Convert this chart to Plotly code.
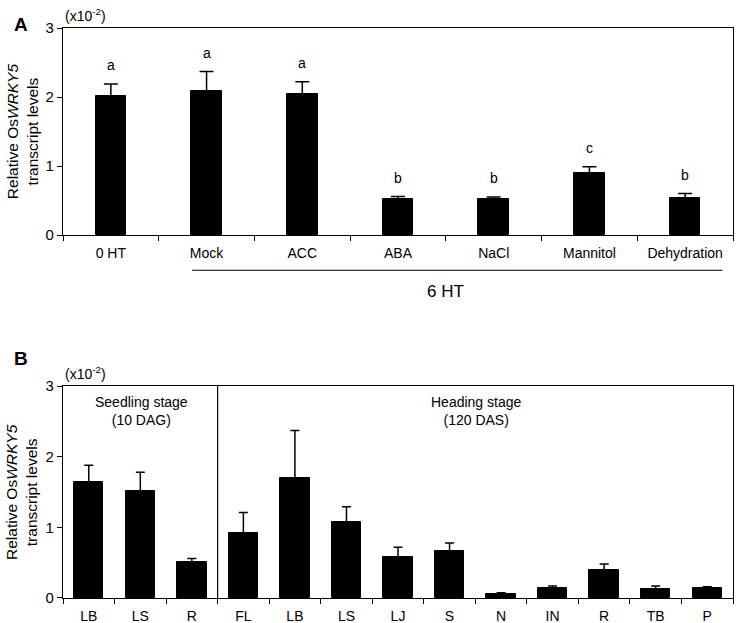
import numpy as np
import plotly.graph_objects as go

# ---------- Data ----------
cats_a = ["0 HT", "Mock", "ACC", "ABA", "NaCl", "Mannitol", "Dehydration"]
mean_a = [2.02, 2.09, 2.04, 0.52, 0.52, 0.90, 0.53]
err_a = [0.17, 0.28, 0.18, 0.04, 0.03, 0.09, 0.07]
letters_a = ["a", "a", "a", "b", "b", "c", "b"]

cats_b = ["LB", "LS", "R", "FL", "LB", "LS", "LJ", "S", "N", "IN", "R", "TB", "P"]
mean_b = [1.64, 1.51, 0.51, 0.92, 1.70, 1.07, 0.58, 0.67, 0.05, 0.14, 0.40, 0.13, 0.14]
err_b = [0.24, 0.27, 0.05, 0.29, 0.67, 0.22, 0.14, 0.11, 0.025, 0.03, 0.08, 0.04, 0.02]

y_ticks = [0, 1, 2, 3]
FONT = "Liberation Sans, Arial, sans-serif"

xa = np.arange(len(cats_a))
xb = np.arange(len(cats_b))

fig = go.Figure()
fig.add_trace(go.Bar(
    x=xa, y=mean_a, width=0.32, marker=dict(color="black", line=dict(color="black", width=1)),
    error_y=dict(type="data", array=err_a, arrayminus=[0] * len(err_a), symmetric=False,
                 color="black", thickness=1.5, width=7),
    xaxis="x", yaxis="y", showlegend=False, hoverinfo="skip"))
fig.add_trace(go.Bar(
    x=xb, y=mean_b, width=0.57, marker=dict(color="black", line=dict(color="black", width=1)),
    error_y=dict(type="data", array=err_b, arrayminus=[0] * len(err_b), symmetric=False,
                 color="black", thickness=1.5, width=4.5),
    xaxis="x2", yaxis="y2", showlegend=False, hoverinfo="skip"))

def xaxis_cfg(n, labels, anchor):
    return dict(
        range=[-0.5, n - 0.5], tickmode="array", tickvals=list(range(n)), ticktext=labels,
        ticks="outside", ticklen=5, tickcolor="rgba(0,0,0,0)",
        minor=dict(tickmode="array", tickvals=list(np.arange(-0.5, n, 1.0)), ticks="outside",
                   ticklen=5, tickcolor="black", tickwidth=1.2),
        showline=True, linecolor="black", linewidth=1.3, mirror=True,
        showgrid=False, zeroline=False, anchor=anchor, domain=[0, 1], automargin=False,
        tickfont=dict(size=14, color="black", family=FONT), fixedrange=True)

def yaxis_cfg(domain, anchor):
    return dict(
        range=[0, 3], tickmode="array", tickvals=y_ticks, ticks="outside", ticklen=5,
        tickcolor="black", tickwidth=1.2, showline=True, linecolor="black", linewidth=1.3,
        mirror=True, showgrid=False, zeroline=False, domain=domain, anchor=anchor,
        automargin=False, fixedrange=True, tickfont=dict(size=15, color="black", family=FONT))

fig.update_layout(
    width=737, height=623,
    margin=dict(l=63, r=4, t=28, b=25, autoexpand=False),
    paper_bgcolor="white", plot_bgcolor="white",
    font=dict(family=FONT, color="black"),
    bargap=0,
    xaxis=xaxis_cfg(len(cats_a), cats_a, "y"),
    yaxis=yaxis_cfg([0.6368, 1.0], "x"),
    xaxis2=xaxis_cfg(len(cats_b), cats_b, "y2"),
    yaxis2=yaxis_cfg([0.0, 0.3719], "x2"),
)

ann = []
# significance letters
for i, (m, e, l) in enumerate(zip(mean_a, err_a, letters_a)):
    ann.append(dict(x=i, y=m + e + 0.27, xref="x", yref="y", text=l, showarrow=False,
                    font=dict(size=14), yanchor="middle"))
# panel letters
ann.append(dict(x=-0.076, y=1.028, xref="paper", yref="paper", text="<b>A</b>", showarrow=False,
                font=dict(size=19)))
ann.append(dict(x=-0.076, y=0.421, xref="paper", yref="paper", text="<b>B</b>", showarrow=False,
                font=dict(size=19)))
# scale labels
ann.append(dict(x=0.0, y=1.0228, xref="paper", yref="paper", text="(x10<sup>-2</sup>)",
                showarrow=False, xanchor="left", yanchor="middle", font=dict(size=14)))
ann.append(dict(x=0.0, y=0.3947, xref="paper", yref="paper", text="(x10<sup>-2</sup>)",
                showarrow=False, xanchor="left", yanchor="middle", font=dict(size=14)))
# y titles
for yc in (0.819, 0.186):
    ann.append(dict(x=-0.0612, y=yc, xref="paper", yref="paper",
                    text="Relative Os<i>WRKY5</i><br>transcript levels", textangle=-90,
                    showarrow=False, font=dict(size=15.5), xanchor="center", yanchor="middle"))
# 6 HT label
ann.append(dict(x=3.5, y=0.537, xref="x", yref="paper", text="6 HT", showarrow=False,
                font=dict(size=17), yanchor="middle"))
# stage labels
ann.append(dict(x=1.03, y=2.64, xref="x2", yref="y2", text="Seedling stage<br>(10 DAG)",
                showarrow=False, font=dict(size=14), yanchor="middle"))
ann.append(dict(x=7.53, y=2.64, xref="x2", yref="y2", text="Heading stage<br>(120 DAS)",
                showarrow=False, font=dict(size=14), yanchor="middle"))
fig.update_layout(annotations=ann)

fig.add_shape(type="line", x0=0.85, x1=6.39, y0=0.575, y1=0.575, xref="x", yref="paper",
              line=dict(color="black", width=1))
fig.add_shape(type="line", x0=2.5, x1=2.5, y0=0, y1=3, xref="x2", yref="y2",
              line=dict(color="black", width=1.2))

fig.write_html("out.html", config={"displayModeBar": False},
               post_script="document.body.style.margin='0';document.body.style.overflow='hidden';")
